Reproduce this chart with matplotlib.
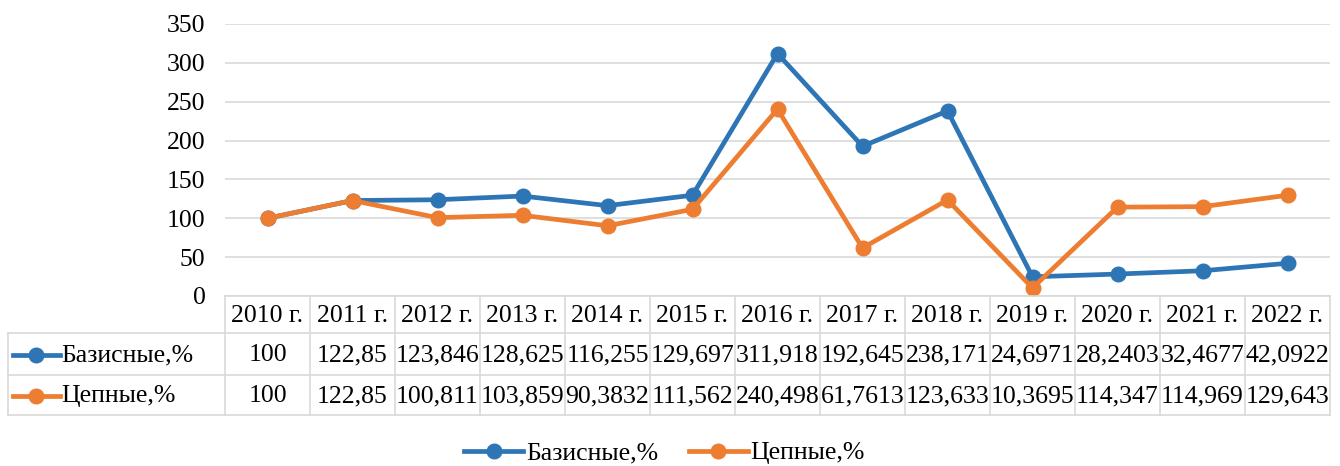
import matplotlib
matplotlib.use("Agg")
import matplotlib.pyplot as plt
from matplotlib.lines import Line2D

plt.rcParams['font.family'] = ['Liberation Serif', 'DejaVu Serif']

years = ["2010 г.", "2011 г.", "2012 г.", "2013 г.", "2014 г.", "2015 г.", "2016 г.",
         "2017 г.", "2018 г.", "2019 г.", "2020 г.", "2021 г.", "2022 г."]
basic = [100, 122.85, 123.846, 128.625, 116.255, 129.697, 311.918, 192.645,
         238.171, 24.6971, 28.2403, 32.4677, 42.0922]
chain = [100, 122.85, 100.811, 103.859, 90.3832, 111.562, 240.498, 61.7613,
         123.633, 10.3695, 114.347, 114.969, 129.643]
basic_txt = ["100", "122,85", "123,846", "128,625", "116,255", "129,697", "311,918",
             "192,645", "238,171", "24,6971", "28,2403", "32,4677", "42,0922"]
chain_txt = ["100", "122,85", "100,811", "103,859", "90,3832", "111,562", "240,498",
             "61,7613", "123,633", "10,3695", "114,347", "114,969", "129,643"]
series_names = ["Базисные,%", "Цепные,%"]
colors = ["#2E75B6", "#ED7D31"]

W, H = 1340, 466
fig = plt.figure(figsize=(W / 100, H / 100), dpi=100)

# pixel geometry
x0, x1 = 225, 1330
y_top, y_zero = 24, 296
row_y = [296, 333, 375, 415]
left_x = 8
n = len(years)
cw = (x1 - x0) / n
FS = 18.5

ax = fig.add_axes([x0 / W, 1 - y_zero / H, (x1 - x0) / W, (y_zero - y_top) / H])
xs = list(range(n))
for vals, c, name in zip([basic, chain], colors, series_names):
    ax.plot(xs, vals, color=c, lw=3.4, marker='o', ms=10.5, label=name, zorder=3)
ax.set_xlim(-0.5, n - 0.5)
ax.set_ylim(0, 350)
ax.set_yticks(range(0, 351, 50))
ax.grid(axis='y', color='#d9d9d9', lw=1.2)
ax.set_axisbelow(True)
for s in ax.spines.values():
    s.set_visible(False)
ax.set_xticks([])
ax.tick_params(axis='y', length=0, pad=14, labelsize=FS)

# table overlay in pixel coordinates
tx = fig.add_axes([0, 0, 1, 1])
tx.set_xlim(0, W)
tx.set_ylim(H, 0)
tx.axis('off')
lc = '#d9d9d9'
tx.plot([x0, x1], [row_y[0], row_y[0]], color=lc, lw=1.2)
for yy in row_y[1:]:
    tx.plot([left_x, x1], [yy, yy], color=lc, lw=1.2)
for i in range(n + 1):
    xx = x0 + i * cw
    tx.plot([xx, xx], [row_y[0], row_y[3]], color=lc, lw=1.2)
tx.plot([left_x, left_x], [row_y[1], row_y[3]], color=lc, lw=1.2)

for i, y in enumerate(years):
    tx.text(x0 + (i + 0.5) * cw, (row_y[0] + row_y[1]) / 2 + 2, y, ha='center',
            va='center', fontsize=FS)
for r, (txts, c, name) in enumerate(zip([basic_txt, chain_txt], colors, series_names)):
    yc = (row_y[r + 1] + row_y[r + 2]) / 2 + 1
    for i, t in enumerate(txts):
        tx.text(x0 + (i + 0.5) * cw, yc, t, ha='center', va='center', fontsize=FS)
    tx.plot([13, 60], [yc, yc], color=c, lw=3.4)
    tx.plot([36], [yc], color=c, marker='o', ms=10.5)
    tx.text(61, yc, name, ha='left', va='center', fontsize=FS)

# legend
handles = [Line2D([0], [0], color=c, lw=3.4, marker='o', ms=10.5) for c in colors]
fig.legend(handles, series_names, loc='center', bbox_to_anchor=(0.496, 1 - 453 / H),
           ncol=2, frameon=False, fontsize=FS, handlelength=2.3, handletextpad=0.1,
           columnspacing=1.2)

fig.savefig("out.png", dpi=100)
